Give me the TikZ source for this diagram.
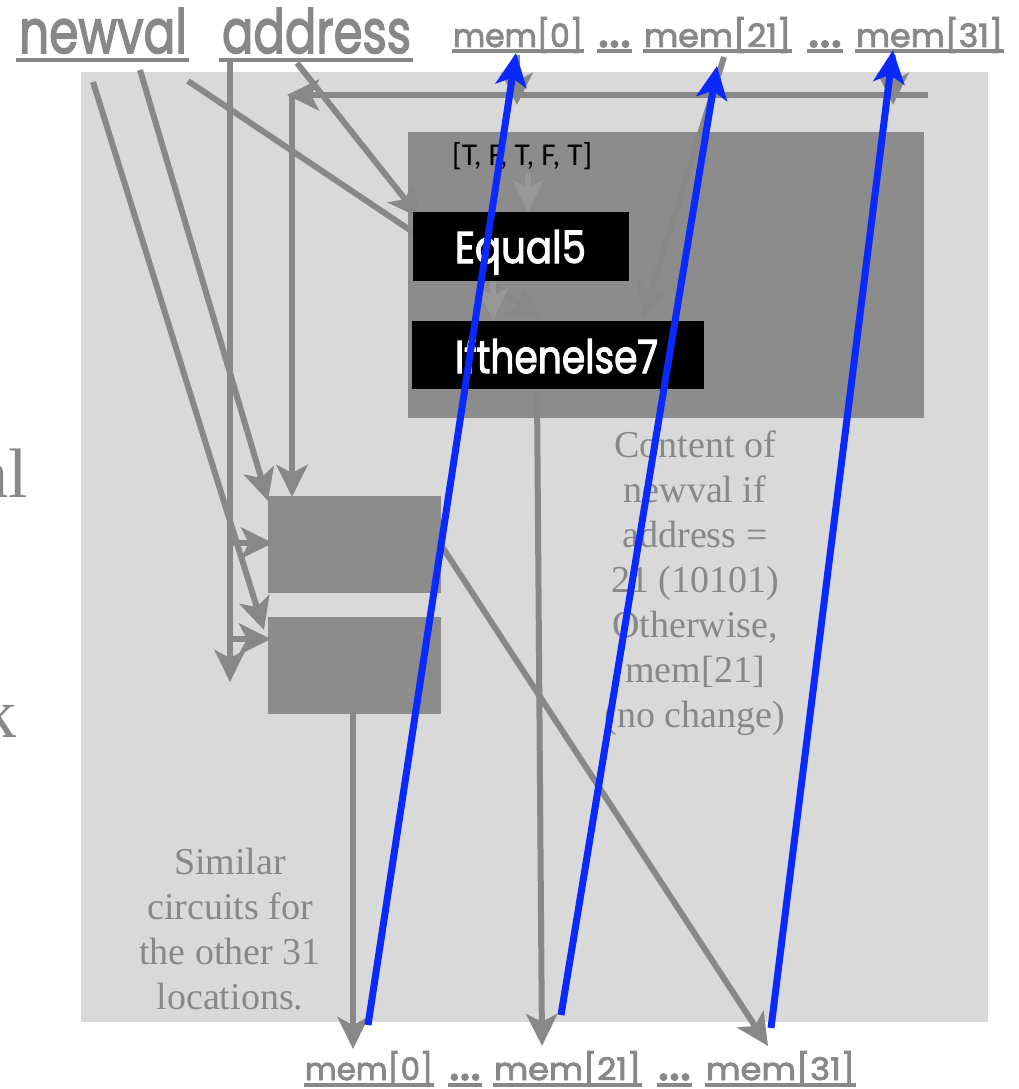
\documentclass[tikz,border=0pt]{standalone}
\usepackage{fontspec}
\usepackage{graphicx}
\newfontfamily\futura{Poppins}[FakeBold=2.6]
\newfontfamily\gill{Carlito}
\newfontfamily\serifnote{Liberation Serif}
\usetikzlibrary{arrows.meta,calc}
\definecolor{bglight}{HTML}{D9D9D9}
\definecolor{boxgray}{HTML}{8C8C8C}
\definecolor{linegray}{HTML}{888888}
\definecolor{innergray}{HTML}{979797}
\definecolor{txtgray}{HTML}{888888}
\definecolor{wireblue}{HTML}{0A29FF}
\begin{document}
\begin{tikzpicture}[x=1pt,y=-1pt,
  blk/.style={draw=none, inner sep=0pt, outer sep=0pt, anchor=north west},
  wire/.style={draw=linegray, line width=6pt, -{Stealth[length=32pt,width=31pt,inset=8pt]}},
  innerwire/.style={wire, draw=innergray},
  bluewire/.style={draw=wireblue, line width=7pt, -{Stealth[length=33pt,width=31pt,inset=8pt]}},
  lbl/.style={anchor=base west, inner sep=0pt, outer sep=0pt, text=txtgray},
  uline/.style={draw=txtgray, line width=3.5pt},
  note/.style={anchor=north, inner sep=0pt, align=center, text=txtgray,
    font=\serifnote\fontsize{38}{45}\selectfont},
  frag/.style={anchor=base east, inner sep=0pt, text=txtgray,
    font=\serifnote\fontsize{70}{84}\selectfont},
  boxlbl/.style={anchor=base west, inner sep=0pt, outer sep=0pt, text=white}
]
\useasboundingbox (0,0) rectangle (1019,1089);

% fragments of text cut by the left border
\begin{scope}
  \clip (0,0) rectangle (1019,1089);
  \node[frag] (frag1) at (28,497) {nal};
  \node[frag] (frag2) at (17,737) {k};
\end{scope}

% backgrounds
\node[blk, fill=bglight, minimum width=907pt, minimum height=950pt] (bg) at (81,72) {};
\node[blk, fill=boxgray, minimum width=516pt, minimum height=286pt] (cell) at (408,132) {};

% notes
\node[note] (note1) at (695,431) {Content of\\newval if\\address =\\21 (10101)\\Otherwise,\\mem[21]\\(no change)};
\node[note] (note2) at (230,848) {Similar\\circuits for\\the other 31\\locations.};

% small boxes
\node[blk, fill=boxgray, minimum width=173pt, minimum height=97pt] (box1) at (268,496) {};
\node[blk, fill=boxgray, minimum width=173pt, minimum height=97pt] (box2) at (268,617) {};

% labels
\node[lbl] (nv) at (19,53) {\resizebox{168pt}{45pt}{\futura newval}};
\node[lbl] (ad) at (222,53) {\resizebox{189pt}{45pt}{\futura address}};
\node[lbl] (tm0) at (453,47) {\resizebox{130pt}{30pt}{\futura mem[0]}};
\node[lbl] (td1) at (598,47) {\resizebox{33pt}{!}{\futura ...}};
\node[lbl] (tm21) at (644,47) {\resizebox{147pt}{30pt}{\futura mem[21]}};
\node[lbl] (td2) at (808,47) {\resizebox{34pt}{!}{\futura ...}};
\node[lbl] (tm31) at (856,47) {\resizebox{147pt}{30pt}{\futura mem[31]}};

\node[lbl] (bm0) at (305,1080) {\resizebox{128pt}{29pt}{\futura mem[0]}};
\node[lbl] (bd1) at (449,1080) {\resizebox{32pt}{!}{\futura ...}};
\node[lbl] (bm21) at (494,1080) {\resizebox{147pt}{29pt}{\futura mem[21]}};
\node[lbl] (bd2) at (658,1080) {\resizebox{33pt}{!}{\futura ...}};
\node[lbl] (bm31) at (706,1080) {\resizebox{149pt}{29pt}{\futura mem[31]}};

\foreach \n in {nv,ad} {
  \draw[uline, line width=4pt] ($(\n.base west)+(-3,7)$) -- ($(\n.base east)+(2,7)$);
}
\foreach \n in {tm0,td1,tm21,td2,tm31} {
  \draw[uline] ($(\n.base west)+(-1,4)$) -- ($(\n.base east)+(1,4)$);
}
\foreach \n in {bm0,bd1,bm21,bd2,bm31} {
  \draw[uline] ($(\n.base west)+(-1,5)$) -- ($(\n.base east)+(1,5)$);
}

% coordinates for wires
\coordinate (nvA) at (93,82);
\coordinate (nvB) at (140,70);
\coordinate (nvC) at (188,81);
\coordinate (adA) at (297,63);
\coordinate (adV) at (230,60);
\coordinate (adEnd) at (230,682);
\coordinate (brA) at (228,543);
\coordinate (brB) at (228,639);
\coordinate (b1in) at (273,543);
\coordinate (b2in) at (271,639);
\coordinate (b2top) at (264,630);
\coordinate (b1top) at (268,501);
\coordinate (busR) at (928,95);
\coordinate (busL) at (287,95);
\coordinate (busV) at (292,95);
\coordinate (b1fb) at (292,497);
\coordinate (m0src) at (517,55);
\coordinate (m0bus) at (517,105);
\coordinate (m31src) at (893,55);
\coordinate (m31bus) at (893,105);
\coordinate (m21src) at (724,57);
\coordinate (ifR) at (643,317);
\coordinate (eqTL) at (420,218);
\coordinate (ifNV) at (541,318);
\coordinate (cstS) at (528,173);
\coordinate (eqT) at (528,212);
\coordinate (eqB) at (493,281);
\coordinate (ifT) at (493,320);
\coordinate (ifB) at (537,392);
\coordinate (o21) at (542,1046);
\coordinate (b2B) at (353,712);
\coordinate (o0) at (353,1049);
\coordinate (b1R) at (441,545);
\coordinate (o31) at (768,1046);

% gray wires
\draw[wire] (nvA) -- (b2top);
\draw[wire] (nvB) -- (b1top);
\draw[wire] (nvC) -- (ifNV);
\draw[wire] (adA) -- (eqTL);
\draw[wire] (adV) -- (adEnd);
\draw[wire] (brA) -- (b1in);
\draw[wire] (brB) -- (b2in);
\draw[wire] (busR) -- (busL);
\draw[wire] (busV) -- (b1fb);
\draw[wire] (m0src) -- (m0bus);
\draw[wire] (m31src) -- (m31bus);
\draw[wire] (m21src) -- (ifR);
\draw[innerwire] (cstS) -- (eqT);
\draw[innerwire] (eqB) -- (ifT);
\draw[wire] (ifB) -- (o21);
\draw[wire] (b2B) -- (o0);
\draw[wire] (b1R) -- (o31);

% black component boxes
\node[blk, fill=black, minimum width=216pt, minimum height=69pt] (eq) at (413,212) {};
\node[blk, fill=black, minimum width=292pt, minimum height=68pt] (ite) at (412,321) {};
\node[boxlbl] (eqtxt) at (455,263) {\resizebox{131pt}{33pt}{\futura Equal5}};
\node[boxlbl] (itetxt) at (455,373) {\resizebox{203pt}{35pt}{\futura Ifthenelse7}};
\node[anchor=base west, inner sep=0pt, text=black] (cst) at (452,165) {\resizebox{140pt}{23pt}{\gill [T, F, T, F, T]}};

% blue wires
\coordinate (bl0s) at (368,1025);
\coordinate (bl0e) at (516,53);
\coordinate (bl1s) at (561,1015);
\coordinate (bl1e) at (717,66);
\coordinate (bl2s) at (771,1028);
\coordinate (bl2e) at (893,50);
\draw[bluewire] (bl0s) -- (bl0e);
\draw[bluewire] (bl1s) -- (bl1e);
\draw[bluewire] (bl2s) -- (bl2e);
\end{tikzpicture}
\end{document}
